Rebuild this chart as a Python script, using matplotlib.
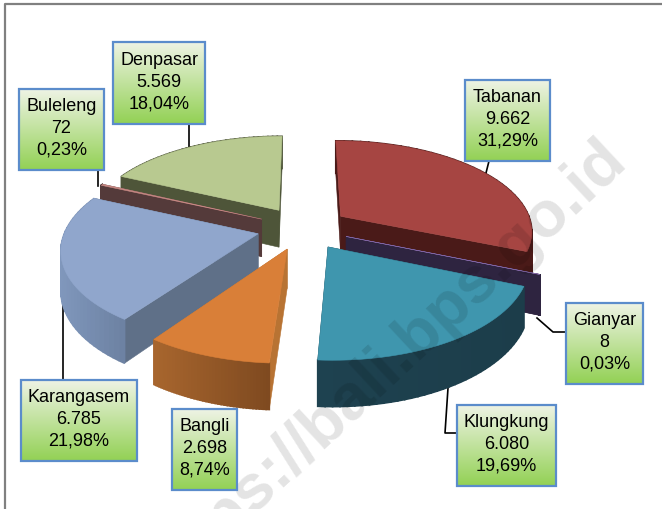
#!/usr/bin/env python3
import numpy as np
import matplotlib
matplotlib.use('Agg')
import matplotlib.pyplot as plt
from matplotlib.colors import to_rgb
from matplotlib.patches import Polygon, Rectangle

names = ['Tabanan', 'Gianyar', 'Klungkung', 'Bangli', 'Karangasem', 'Buleleng', 'Denpasar']
values = [9662, 8, 6080, 2698, 6785, 72, 5569]

# -------------------------------- styles, same order as names
top_col = ['#A64542', '#8064A2', '#3F96AE', '#D97F38', '#90A6CC', '#C98A85', '#B8C990']
cut_col = ['#4A1A18', '#2E2440', '#1C3D4A', '#B87333', '#5F7088', '#543A3A', '#4E5539']
wall_l = ['#4A1A18', '#2E2440', '#1E4250', '#A8662E', '#8097BC', '#543A3A', '#4E5539']
wall_r = ['#4A1A18', '#2E2440', '#1C3D4A', '#7F4A20', '#6D82A3', '#543A3A', '#4E5539']
draw_order = [6, 0, 5, 1, 4, 3, 2]

# label boxes: left, top, right, bottom in pixels
boxes = [(465, 80, 550, 161), (566, 303, 643, 384), (457, 405, 556, 486), (172, 409, 237, 490),
         (21, 380, 137, 461), (19, 89, 104, 170), (113, 42, 205, 124)]
leaders = [[(489, 161), (486, 173)], [(537, 318), (553, 332), (566, 332)],
           [(448, 388), (445, 433), (457, 433)], [], [(63, 303), (63, 380)],
           [(98, 170), (98, 186)], [(189, 124), (189, 147)]]

cx, cy, rx, ry, k = 303, 228, 192, 90, 0.15
explode = 0.24
depth = 38

def project(X, Y, z=0.):
    w = 1 + k * Y
    return np.column_stack([cx + rx * X / w, cy + (-ry * Y + z) / w])

plt.rcParams['font.family'] = ['Liberation Sans', 'DejaVu Sans']
fig = plt.figure(figsize=(6.62, 5.09), dpi=100)
ax = fig.add_axes([0, 0, 1, 1])
ax.set_xlim(0, 662)
ax.set_ylim(509, 0)
ax.axis('off')

# frame
ax.plot([5, 5, 662], [509, 4, 4], color='#808080', lw=1.6, zorder=1)

total = sum(values)
edges = np.radians(np.concatenate([[0], np.cumsum(values) / total * 360]))

zz = 2
for i in draw_order:
    t0, t1 = edges[i], edges[i + 1]
    mid = (t0 + t1) / 2
    ox, oy = explode * np.sin(mid), explode * np.cos(mid)
    th = np.linspace(t0, t1, 40)
    X = ox + np.sin(th)
    Y = oy + np.cos(th)
    # cut faces
    for t in [t1, t0]:
        a = project(np.array([ox, ox + np.sin(t)]), np.array([oy, oy + np.cos(t)]))
        b = project(np.array([ox, ox + np.sin(t)]), np.array([oy, oy + np.cos(t)]), depth)
        ax.add_patch(Polygon(np.vstack([a, b[::-1]]), fc=cut_col[i], ec=cut_col[i], lw=0.4, zorder=zz))
    # outer wall, shaded left to right
    up = project(X, Y)
    lo = project(X, Y, depth)
    c_l, c_r = np.array(to_rgb(wall_l[i])), np.array(to_rgb(wall_r[i]))
    span = max(up[:, 0].max() - up[:, 0].min(), 1)
    for j in range(len(th) - 1):
        f = (up[j, 0] - up[:, 0].min()) / span
        col = c_l + (c_r - c_l) * f
        ax.add_patch(Polygon([up[j], up[j + 1], lo[j + 1], lo[j]], fc=col, ec=col, lw=1.2, zorder=zz))
    # top face
    apex = project(np.array([ox]), np.array([oy]))
    ax.add_patch(Polygon(np.vstack([apex, up]), fc=top_col[i], ec=top_col[i], lw=0.4, zorder=zz))
    zz += 1

# leader lines
for pts in leaders:
    if pts:
        xs, ys = zip(*pts)
        ax.plot(xs, ys, color='black', lw=1.2, zorder=1.5)

# label boxes
grad = np.linspace(0, 1, 64)[:, None, None]
c_top, c_bot = np.array(to_rgb('#EEF3E4')), np.array(to_rgb('#93D155'))
img = c_top + (c_bot - c_top) * grad
for i, name in enumerate(names):
    x0, y0, x1, y1 = boxes[i]
    ax.imshow(img, extent=(x0, x1, y1, y0), aspect='auto', zorder=20, interpolation='bilinear')
    ax.add_patch(Rectangle((x0, y0), x1 - x0, y1 - y0, fc='none', ec='#5B8CCB', lw=1.6, zorder=21))
    val = f'{values[i]:,}'.replace(',', '.')
    pct = f'{values[i] / total * 100:.2f}'.replace('.', ',') + '%'
    ax.text((x0 + x1) / 2, (y0 + y1) / 2 - 1, name + '\n' + val + '\n' + pct, ha='center', va='center',
            fontsize=13, linespacing=1.38, color='black', zorder=22)
ax.set_xlim(0, 662)
ax.set_ylim(509, 0)

# watermark
ax.text(617, 150, 'https://bali.bps.go.id', rotation=43, rotation_mode='anchor', ha='right', va='center',
        fontsize=47, fontweight='bold', color='black', alpha=0.11, zorder=15, clip_on=True)

fig.savefig('out.png', dpi=100)
